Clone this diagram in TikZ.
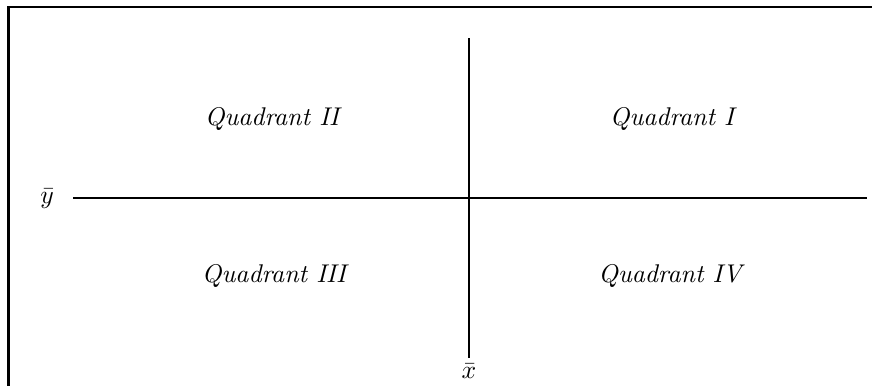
\documentclass[tikz,border=0pt]{standalone}
\begin{document}
\begin{tikzpicture}[x=0.39pt,y=-0.39pt,
  quad/.style={font=\itshape, inner sep=0pt},
  axis/.style={line width=0.4pt},
  frame/.style={line width=0.8pt}]
\useasboundingbox (0,0) rectangle (872,385);
% frame (extends beyond the picture)
\coordinate (fbl) at (8.5,400);
\coordinate (ftl) at (8.5,7);
\coordinate (ftr) at (890,7);
\draw[frame] (fbl) -- (ftl) -- (ftr);
% axes
\coordinate (vtop) at (469,38);
\coordinate (vbot) at (469,358);
\coordinate (hleft) at (73,198);
\coordinate (hright) at (867,198);
\draw[axis] (vtop) -- (vbot);
\draw[axis] (hleft) -- (hright);
\node (ylab) at (47,199) {$\bar{y}$};
\node (xlab) at (469,371) {$\bar{x}$};
\node[quad] (q2) at (272,119) {Quadrant II};
\node[quad] (q1) at (672,119) {Quadrant I};
\node[quad] (q3) at (274,276) {Quadrant III};
\node[quad] (q4) at (670,276) {Quadrant IV};
\end{tikzpicture}
\end{document}
